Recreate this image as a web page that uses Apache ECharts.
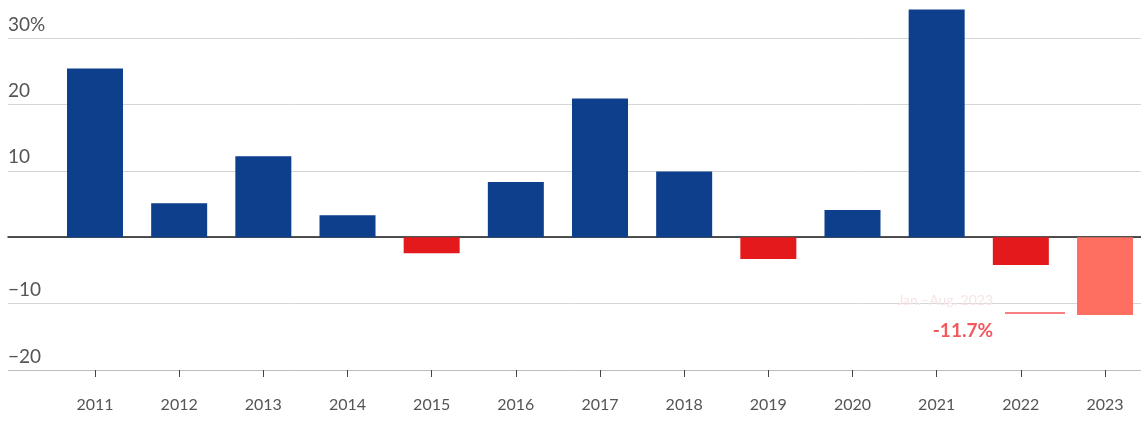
<!DOCTYPE html>
<html>
<head>
<meta charset="utf-8">
<script src="https://cdn.jsdelivr.net/npm/echarts@6/dist/echarts.min.js"></script>
<style>
html,body{margin:0;padding:0;background:#fff;}
#chart{width:1141px;height:441px;}
</style>
</head>
<body>
<div id="chart"></div>
<script>
const years = ['2011','2012','2013','2014','2015','2016','2017','2018','2019','2020','2021','2022','2023'];
const changes = [25.4, 5.1, 12.2, 3.3, -2.4, 8.3, 20.9, 9.9, -3.3, 4.1, 34.3, -4.2, -11.7];
const yTicks = [-20, -10, 0, 10, 20, 30];
const partialYear = '2023';
const partialNote = 'Jan.–Aug. 2023';

const BLUE = '#0d3f8c', RED = '#e3191c', SALMON = '#ff6f61';
const FONT = 'Lato, "Noto Sans", sans-serif';

const barData = changes.map((v, i) => {
  const item = { value: v, itemStyle: { color: v >= 0 ? BLUE : RED } };
  if (years[i] === partialYear) {
    item.itemStyle.color = SALMON;
    item.label = {
      show: true,
      position: 'left',
      distance: 12,
      offset: [0, 42],
      align: 'right',
      formatter: () => '{note|' + partialNote + '}{sp|}\n{seg|}\n{val|' + v.toFixed(1) + '%}{sp|}',
      rich: {
        note: { fontFamily: FONT, fontSize: 14, color: '#f6e4e6', lineHeight: 14 },
        sp: { width: 72, height: 2 },
        seg: { width: 60, height: 1.5, backgroundColor: '#f2555a', lineHeight: 12 },
        val: { fontFamily: FONT, fontSize: 19, fontWeight: 'bold', color: '#f2595e', lineHeight: 24 }
      }
    };
  }
  return item;
});

const chart = echarts.init(document.getElementById('chart'), null, { renderer: 'canvas' });
chart.setOption({
  animation: false,
  grid: [
    { left: 8, right: 0, top: 38, bottom: 71, containLabel: false },
    { left: 95, right: 36, top: 38, bottom: 71, containLabel: false }
  ],
  xAxis: [
    {
      gridIndex: 0, type: 'value', min: 0, max: 1,
      axisLabel: { show: false }, axisTick: { show: false }, splitLine: { show: false },
      axisLine: { show: true, onZero: true, lineStyle: { color: '#1a1a1a', width: 1.5 } }
    },
    {
      gridIndex: 1, type: 'category', data: years, boundaryGap: false,
      axisLine: { show: false, onZero: false },
      axisTick: { show: true, length: 7, lineStyle: { color: '#444' } },
      axisLabel: { color: '#555', fontFamily: FONT, fontSize: 16, margin: 27 }
    }
  ],
  yAxis: [
    {
      gridIndex: 0, type: 'value', min: yTicks[0], max: yTicks[yTicks.length - 1], interval: 10,
      axisLine: { show: false }, axisTick: { show: false },
      splitLine: { show: true, lineStyle: { color: ['#bdbdbd', '#d6d6d6', '#d6d6d6', '#d6d6d6', '#d6d6d6', '#d6d6d6'], width: 1 } },
      axisLabel: {
        inside: true, margin: 0, verticalAlign: 'bottom', padding: [0, 0, 4, 0],
        color: '#555', fontFamily: FONT, fontSize: 19,
        formatter: v => v === 30 ? '30%' : (v === 0 ? '' : (v < 0 ? '\u2212' + Math.abs(v) : String(v)))
      }
    },
    {
      gridIndex: 1, type: 'value', min: yTicks[0], max: yTicks[yTicks.length - 1], interval: 10,
      show: false, splitLine: { show: false }
    }
  ],
  series: [
    {
      type: 'bar', xAxisIndex: 1, yAxisIndex: 1,
      data: barData, barWidth: 56, clip: false, z: 1
    }
  ]
});
</script>
</body>
</html>
